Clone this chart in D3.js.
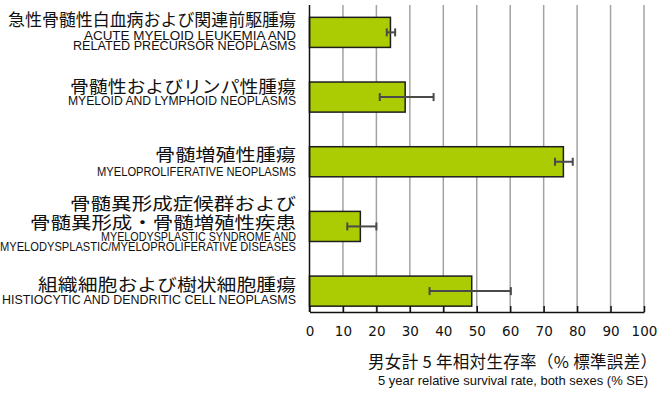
<!DOCTYPE html>
<html><head><meta charset="utf-8">
<script src="https://cdn.jsdelivr.net/npm/d3@7"></script>
<style>
html,body{margin:0;padding:0;background:#fff;}
svg{display:block;}
</style></head>
<body>
<svg id="chart" width="662" height="397"></svg>
<script>
// ---- data ----
const categoriesJa = [
  ["急性骨髄性白血病および関連前駆腫瘍"],
  ["骨髄性およびリンパ性腫瘍"],
  ["骨髄増殖性腫瘍"],
  ["骨髄異形成症候群および", "骨髄異形成・骨髄増殖性疾患"],
  ["組織細胞および樹状細胞腫瘍"]
];
const categoriesEn = [
  ["ACUTE MYELOID LEUKEMIA AND", "RELATED PRECURSOR NEOPLASMS"],
  ["MYELOID AND LYMPHOID NEOPLASMS"],
  ["MYELOPROLIFERATIVE NEOPLASMS"],
  ["MYELODYSPLASTIC SYNDROME AND", "MYELODYSPLASTIC/MYELOPROLIFERATIVE DISEASES"],
  ["HISTIOCYTIC AND DENDRITIC CELL NEOPLASMS"]
];
const survival = [24.2, 28.6, 75.9, 15.2, 48.5];
const errLow  = [23.1, 21.0, 73.4, 11.3, 35.9];
const errHigh = [25.6, 37.1, 78.7, 20.0, 60.2];
const xTicks = [0,10,20,30,40,50,60,70,80,90,100];
const xTitleJa = "男女計 5 年相対生存率（% 標準誤差）";
const xTitleEn = "5 year relative survival rate, both sexes (% SE)";

// ---- layout (not data) ----
const jaWidths = [[288],[226],[141],[226,266],[258]];
const enWidths = [[212,223],[228],[199],[195,296],[294]];
const jaBaselines = [[26],[93],[161],[210,229],[291]];
const enBaselines = [[40,49.5],[105],[176],[241,251],[304]];

// ---- chart ----
const svg = d3.select("#chart");
const idx = d3.range(survival.length);
const x = d3.scaleLinear().domain([0,100]).range([309.5, 644]);
const y = d3.scaleBand().domain(idx).range([0, 323.5]).paddingInner(0.535).paddingOuter(0.268);
const plotTop = 5, plotBottom = 312;

const jaFont = "'Noto Sans CJK JP', sans-serif";
const enFont = "'Liberation Sans', Arial, sans-serif";

// gridlines
svg.append("g").selectAll("line").data(xTicks.filter(t => t > 0)).join("line")
  .attr("x1", d => x(d)).attr("x2", d => x(d))
  .attr("y1", plotTop).attr("y2", plotBottom)
  .attr("stroke", "#a3a3a3").attr("stroke-width", 1.5);

// bars
svg.append("g").selectAll("rect").data(idx).join("rect")
  .attr("x", x(0)).attr("y", i => y(i))
  .attr("width", i => x(survival[i]) - x(0))
  .attr("height", y.bandwidth())
  .attr("fill", "#abcc02").attr("stroke", "#1e1e1e").attr("stroke-width", 1.5);

// error bars
const eb = svg.append("g").attr("stroke", "#4a4a4a").attr("stroke-width", 2);
idx.forEach(i => {
  const cy = y(i) + y.bandwidth()/2;
  eb.append("line").attr("x1", x(errLow[i])).attr("x2", x(errHigh[i])).attr("y1", cy).attr("y2", cy);
  [errLow[i], errHigh[i]].forEach(v => {
    eb.append("line").attr("x1", x(v)).attr("x2", x(v)).attr("y1", cy-4).attr("y2", cy+4);
  });
});

// y axis line
svg.append("line").attr("x1", x(0)).attr("x2", x(0)).attr("y1", plotTop).attr("y2", plotBottom)
  .attr("stroke", "#111").attr("stroke-width", 1.5);

// x axis
const xAxis = d3.axisBottom(x).tickValues(xTicks).tickSizeInner(-6).tickSizeOuter(0).tickPadding(14);
const ax = svg.append("g").attr("transform", `translate(0,${plotBottom})`).call(xAxis);
ax.select(".domain").attr("stroke", "#111").attr("stroke-width", 1.5);
ax.selectAll(".tick line").attr("stroke", "#111").attr("stroke-width", 1.5);
ax.selectAll(".tick text").attr("font-family", "'DejaVu Sans', sans-serif").attr("font-size", 13.5)
  .attr("fill", "#111");

// category labels (right aligned; start = right - width)
const labelRight = 296;
idx.forEach(i => {
  categoriesJa[i].forEach((line, k) => {
    const w = jaWidths[i][k];
    svg.append("text").attr("x", labelRight - w).attr("y", jaBaselines[i][k])
      .attr("font-family", jaFont).attr("font-size", 17.5)
      .attr("textLength", w).attr("lengthAdjust", "spacingAndGlyphs")
      .attr("fill", "#111").text(line);
  });
  categoriesEn[i].forEach((line, k) => {
    const w = enWidths[i][k];
    svg.append("text").attr("x", labelRight - w).attr("y", enBaselines[i][k])
      .attr("font-family", enFont).attr("font-size", 12.3)
      .attr("textLength", w).attr("lengthAdjust", "spacingAndGlyphs")
      .attr("fill", "#111").text(line);
  });
});

// axis titles
svg.append("text").attr("x", 368).attr("y", 368)
  .attr("font-family", jaFont).attr("font-size", 16.5)
  .attr("textLength", 289).attr("lengthAdjust", "spacing")
  .attr("fill", "#111").text(xTitleJa);
svg.append("text").attr("x", 378).attr("y", 384.5)
  .attr("font-family", enFont).attr("font-size", 13)
  .attr("textLength", 270).attr("lengthAdjust", "spacingAndGlyphs")
  .attr("fill", "#111").text(xTitleEn);
</script>
</body></html>
